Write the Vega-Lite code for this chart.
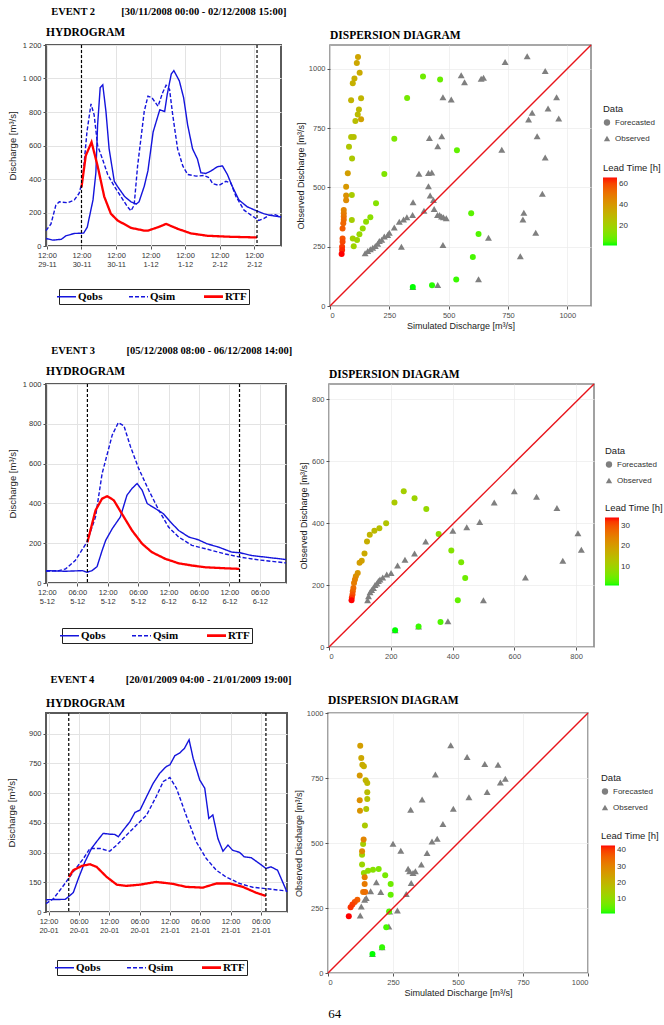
{
  "$schema": "https://vega.github.io/schema/vega-lite/v6.json",
  "background": "white",
  "padding": {"left": 5, "right": 2, "top": 7, "bottom": 2},
  "spacing": 14,
  "resolve": {"scale": {"shape": "independent", "color": "independent"}, "legend": {"shape": "independent", "color": "independent"}},
  "config": {
    "font": "Liberation Sans",
    "view": {"stroke": null},
    "title": {"font": "Liberation Serif", "fontSize": 11.5, "fontWeight": "bold", "color": "#000", "anchor": "start", "offset": 3, "frame": "group"},
    "axis": {"labelFont": "Liberation Sans", "titleFont": "Liberation Sans", "labelFontSize": 7.5, "titleFontSize": 9, "titleFontWeight": "normal", "labelColor": "#4d4d4d", "titleColor": "#222", "domain": false, "tickSize": 3, "tickColor": "#555", "gridColor": "#ebebeb", "labelPadding": 2},
    "legend": {"titleFont": "Liberation Sans", "labelFont": "Liberation Sans", "titleFontWeight": "normal", "titleFontSize": 9.5, "labelFontSize": 8, "titleColor": "#222", "labelColor": "#333"}
  },
  "title": {"text": "64", "orient": "bottom", "anchor": "middle", "fontSize": 13, "fontWeight": "normal", "offset": 10, "frame": "bounds"},
  "datasets": {
    "h2": [
      {"t":"2008-11-29T11:40","q":45,"s":"Qobs"},{"t":"2008-11-29T14:00","q":35,"s":"Qobs"},{"t":"2008-11-29T17:00","q":40,"s":"Qobs"},{"t":"2008-11-29T18:30","q":60,"s":"Qobs"},{"t":"2008-11-29T21:30","q":75,"s":"Qobs"},{"t":"2008-11-30T00:45","q":77,"s":"Qobs"},{"t":"2008-11-30T02:00","q":112,"s":"Qobs"},{"t":"2008-11-30T04:00","q":275,"s":"Qobs"},{"t":"2008-11-30T05:00","q":437,"s":"Qobs"},{"t":"2008-11-30T05:36","q":722,"s":"Qobs"},{"t":"2008-11-30T06:30","q":946,"s":"Qobs"},{"t":"2008-11-30T07:24","q":962,"s":"Qobs"},{"t":"2008-11-30T08:30","q":803,"s":"Qobs"},{"t":"2008-11-30T09:36","q":580,"s":"Qobs"},{"t":"2008-11-30T11:24","q":386,"s":"Qobs"},{"t":"2008-11-30T12:30","q":356,"s":"Qobs"},{"t":"2008-11-30T15:00","q":295,"s":"Qobs"},{"t":"2008-11-30T17:12","q":264,"s":"Qobs"},{"t":"2008-11-30T19:00","q":250,"s":"Qobs"},{"t":"2008-11-30T20:00","q":264,"s":"Qobs"},{"t":"2008-11-30T21:48","q":356,"s":"Qobs"},{"t":"2008-11-30T23:06","q":450,"s":"Qobs"},{"t":"2008-12-01T00:54","q":681,"s":"Qobs"},{"t":"2008-12-01T03:12","q":813,"s":"Qobs"},{"t":"2008-12-01T04:54","q":803,"s":"Qobs"},{"t":"2008-12-01T05:48","q":905,"s":"Qobs"},{"t":"2008-12-01T07:12","q":1027,"s":"Qobs"},{"t":"2008-12-01T08:06","q":1047,"s":"Qobs"},{"t":"2008-12-01T10:00","q":986,"s":"Qobs"},{"t":"2008-12-01T11:30","q":885,"s":"Qobs"},{"t":"2008-12-01T12:54","q":722,"s":"Qobs"},{"t":"2008-12-01T14:36","q":580,"s":"Qobs"},{"t":"2008-12-01T16:18","q":519,"s":"Qobs"},{"t":"2008-12-01T17:30","q":437,"s":"Qobs"},{"t":"2008-12-01T19:12","q":433,"s":"Qobs"},{"t":"2008-12-01T20:54","q":447,"s":"Qobs"},{"t":"2008-12-01T23:18","q":474,"s":"Qobs"},{"t":"2008-12-02T01:00","q":478,"s":"Qobs"},{"t":"2008-12-02T02:42","q":427,"s":"Qobs"},{"t":"2008-12-02T04:24","q":356,"s":"Qobs"},{"t":"2008-12-02T06:42","q":275,"s":"Qobs"},{"t":"2008-12-02T09:36","q":234,"s":"Qobs"},{"t":"2008-12-02T13:00","q":209,"s":"Qobs"},{"t":"2008-12-02T15:18","q":193,"s":"Qobs"},{"t":"2008-12-02T17:36","q":183,"s":"Qobs"},{"t":"2008-12-02T21:20","q":173,"s":"Qobs"},
      {"t":"2008-11-29T11:40","q":92,"s":"Qsim"},{"t":"2008-11-29T13:24","q":132,"s":"Qsim"},{"t":"2008-11-29T15:06","q":244,"s":"Qsim"},{"t":"2008-11-29T16:18","q":264,"s":"Qsim"},{"t":"2008-11-29T19:12","q":258,"s":"Qsim"},{"t":"2008-11-29T21:30","q":275,"s":"Qsim"},{"t":"2008-11-29T23:12","q":315,"s":"Qsim"},{"t":"2008-11-30T00:24","q":397,"s":"Qsim"},{"t":"2008-11-30T01:54","q":681,"s":"Qsim"},{"t":"2008-11-30T03:18","q":848,"s":"Qsim"},{"t":"2008-11-30T04:24","q":783,"s":"Qsim"},{"t":"2008-11-30T05:36","q":600,"s":"Qsim"},{"t":"2008-11-30T07:18","q":519,"s":"Qsim"},{"t":"2008-11-30T09:06","q":427,"s":"Qsim"},{"t":"2008-11-30T11:24","q":356,"s":"Qsim"},{"t":"2008-11-30T13:42","q":295,"s":"Qsim"},{"t":"2008-11-30T16:00","q":234,"s":"Qsim"},{"t":"2008-11-30T17:12","q":210,"s":"Qsim"},{"t":"2008-11-30T18:18","q":244,"s":"Qsim"},{"t":"2008-11-30T19:30","q":478,"s":"Qsim"},{"t":"2008-11-30T21:48","q":803,"s":"Qsim"},{"t":"2008-11-30T23:06","q":895,"s":"Qsim"},{"t":"2008-12-01T00:30","q":885,"s":"Qsim"},{"t":"2008-12-01T02:36","q":834,"s":"Qsim"},{"t":"2008-12-01T04:12","q":915,"s":"Qsim"},{"t":"2008-12-01T05:24","q":960,"s":"Qsim"},{"t":"2008-12-01T06:36","q":935,"s":"Qsim"},{"t":"2008-12-01T07:42","q":783,"s":"Qsim"},{"t":"2008-12-01T09:24","q":580,"s":"Qsim"},{"t":"2008-12-01T11:12","q":478,"s":"Qsim"},{"t":"2008-12-01T12:54","q":427,"s":"Qsim"},{"t":"2008-12-01T15:48","q":417,"s":"Qsim"},{"t":"2008-12-01T18:42","q":421,"s":"Qsim"},{"t":"2008-12-01T20:24","q":407,"s":"Qsim"},{"t":"2008-12-01T21:36","q":372,"s":"Qsim"},{"t":"2008-12-01T23:48","q":362,"s":"Qsim"},{"t":"2008-12-02T02:12","q":386,"s":"Qsim"},{"t":"2008-12-02T03:54","q":376,"s":"Qsim"},{"t":"2008-12-02T05:42","q":295,"s":"Qsim"},{"t":"2008-12-02T08:30","q":214,"s":"Qsim"},{"t":"2008-12-02T11:54","q":173,"s":"Qsim"},{"t":"2008-12-02T13:36","q":153,"s":"Qsim"},{"t":"2008-12-02T15:18","q":163,"s":"Qsim"},{"t":"2008-12-02T17:06","q":183,"s":"Qsim"},{"t":"2008-12-02T19:18","q":187,"s":"Qsim"},{"t":"2008-12-02T21:20","q":173,"s":"Qsim"},
      {"t":"2008-11-30T00:00","q":350,"s":"RTF"},{"t":"2008-11-30T01:30","q":540,"s":"RTF"},{"t":"2008-11-30T03:30","q":620,"s":"RTF"},{"t":"2008-11-30T05:36","q":478,"s":"RTF"},{"t":"2008-11-30T07:54","q":295,"s":"RTF"},{"t":"2008-11-30T10:12","q":193,"s":"RTF"},{"t":"2008-11-30T12:30","q":153,"s":"RTF"},{"t":"2008-11-30T17:12","q":108,"s":"RTF"},{"t":"2008-11-30T21:48","q":92,"s":"RTF"},{"t":"2008-11-30T23:06","q":92,"s":"RTF"},{"t":"2008-12-01T02:36","q":112,"s":"RTF"},{"t":"2008-12-01T05:24","q":132,"s":"RTF"},{"t":"2008-12-01T09:30","q":102,"s":"RTF"},{"t":"2008-12-01T14:06","q":75,"s":"RTF"},{"t":"2008-12-01T19:48","q":61,"s":"RTF"},{"t":"2008-12-02T03:48","q":55,"s":"RTF"},{"t":"2008-12-02T13:00","q":51,"s":"RTF"}
    ],
    "h3": [
      {"t":"2008-12-04T23:50","q":62,"s":"Qobs"},{"t":"2008-12-05T03:42","q":59,"s":"Qobs"},{"t":"2008-12-05T07:00","q":62,"s":"Qobs"},{"t":"2008-12-05T07:54","q":54,"s":"Qobs"},{"t":"2008-12-05T08:54","q":62,"s":"Qobs"},{"t":"2008-12-05T09:54","q":82,"s":"Qobs"},{"t":"2008-12-05T10:54","q":163,"s":"Qobs"},{"t":"2008-12-05T11:36","q":214,"s":"Qobs"},{"t":"2008-12-05T12:54","q":273,"s":"Qobs"},{"t":"2008-12-05T14:30","q":332,"s":"Qobs"},{"t":"2008-12-05T15:48","q":441,"s":"Qobs"},{"t":"2008-12-05T16:48","q":475,"s":"Qobs"},{"t":"2008-12-05T17:48","q":500,"s":"Qobs"},{"t":"2008-12-05T18:48","q":466,"s":"Qobs"},{"t":"2008-12-05T19:48","q":399,"s":"Qobs"},{"t":"2008-12-05T21:24","q":374,"s":"Qobs"},{"t":"2008-12-05T23:00","q":348,"s":"Qobs"},{"t":"2008-12-06T00:24","q":306,"s":"Qobs"},{"t":"2008-12-06T02:00","q":264,"s":"Qobs"},{"t":"2008-12-06T04:00","q":231,"s":"Qobs"},{"t":"2008-12-06T05:54","q":217,"s":"Qobs"},{"t":"2008-12-06T07:36","q":197,"s":"Qobs"},{"t":"2008-12-06T09:54","q":180,"s":"Qobs"},{"t":"2008-12-06T12:30","q":155,"s":"Qobs"},{"t":"2008-12-06T14:06","q":152,"s":"Qobs"},{"t":"2008-12-06T16:24","q":138,"s":"Qobs"},{"t":"2008-12-06T19:06","q":130,"s":"Qobs"},{"t":"2008-12-06T23:10","q":118,"s":"Qobs"},
      {"t":"2008-12-04T23:50","q":59,"s":"Qsim"},{"t":"2008-12-05T02:24","q":62,"s":"Qsim"},{"t":"2008-12-05T03:42","q":71,"s":"Qsim"},{"t":"2008-12-05T05:36","q":113,"s":"Qsim"},{"t":"2008-12-05T07:54","q":205,"s":"Qsim"},{"t":"2008-12-05T09:36","q":332,"s":"Qsim"},{"t":"2008-12-05T10:54","q":550,"s":"Qsim"},{"t":"2008-12-05T12:54","q":744,"s":"Qsim"},{"t":"2008-12-05T14:06","q":806,"s":"Qsim"},{"t":"2008-12-05T15:12","q":790,"s":"Qsim"},{"t":"2008-12-05T16:30","q":685,"s":"Qsim"},{"t":"2008-12-05T18:06","q":576,"s":"Qsim"},{"t":"2008-12-05T20:06","q":466,"s":"Qsim"},{"t":"2008-12-05T22:06","q":365,"s":"Qsim"},{"t":"2008-12-06T00:00","q":281,"s":"Qsim"},{"t":"2008-12-06T02:00","q":231,"s":"Qsim"},{"t":"2008-12-06T04:36","q":189,"s":"Qsim"},{"t":"2008-12-06T07:18","q":172,"s":"Qsim"},{"t":"2008-12-06T11:12","q":146,"s":"Qsim"},{"t":"2008-12-06T14:06","q":130,"s":"Qsim"},{"t":"2008-12-06T17:48","q":116,"s":"Qsim"},{"t":"2008-12-06T23:10","q":101,"s":"Qsim"},
      {"t":"2008-12-05T08:00","q":205,"s":"RTF"},{"t":"2008-12-05T09:36","q":365,"s":"RTF"},{"t":"2008-12-05T10:54","q":424,"s":"RTF"},{"t":"2008-12-05T11:54","q":436,"s":"RTF"},{"t":"2008-12-05T13:12","q":416,"s":"RTF"},{"t":"2008-12-05T14:48","q":348,"s":"RTF"},{"t":"2008-12-05T16:48","q":264,"s":"RTF"},{"t":"2008-12-05T18:48","q":197,"s":"RTF"},{"t":"2008-12-05T20:42","q":155,"s":"RTF"},{"t":"2008-12-05T23:24","q":121,"s":"RTF"},{"t":"2008-12-06T02:00","q":99,"s":"RTF"},{"t":"2008-12-06T04:36","q":88,"s":"RTF"},{"t":"2008-12-06T07:18","q":79,"s":"RTF"},{"t":"2008-12-06T11:12","q":74,"s":"RTF"},{"t":"2008-12-06T14:00","q":71,"s":"RTF"}
    ],
    "h4": [
      {"t":"2009-01-19T23:30","q":62,"s":"Qobs"},{"t":"2009-01-20T03:18","q":64,"s":"Qobs"},{"t":"2009-01-20T03:54","q":76,"s":"Qobs"},{"t":"2009-01-20T04:54","q":98,"s":"Qobs"},{"t":"2009-01-20T05:54","q":169,"s":"Qobs"},{"t":"2009-01-20T07:12","q":253,"s":"Qobs"},{"t":"2009-01-20T08:30","q":321,"s":"Qobs"},{"t":"2009-01-20T09:30","q":355,"s":"Qobs"},{"t":"2009-01-20T10:48","q":397,"s":"Qobs"},{"t":"2009-01-20T12:06","q":393,"s":"Qobs"},{"t":"2009-01-20T13:06","q":392,"s":"Qobs"},{"t":"2009-01-20T13:48","q":380,"s":"Qobs"},{"t":"2009-01-20T14:48","q":414,"s":"Qobs"},{"t":"2009-01-20T16:06","q":456,"s":"Qobs"},{"t":"2009-01-20T17:06","q":503,"s":"Qobs"},{"t":"2009-01-20T18:06","q":515,"s":"Qobs"},{"t":"2009-01-20T19:24","q":583,"s":"Qobs"},{"t":"2009-01-20T20:42","q":650,"s":"Qobs"},{"t":"2009-01-20T22:00","q":701,"s":"Qobs"},{"t":"2009-01-20T23:18","q":735,"s":"Qobs"},{"t":"2009-01-21T00:00","q":743,"s":"Qobs"},{"t":"2009-01-21T01:00","q":790,"s":"Qobs"},{"t":"2009-01-21T01:54","q":802,"s":"Qobs"},{"t":"2009-01-21T02:54","q":827,"s":"Qobs"},{"t":"2009-01-21T03:48","q":870,"s":"Qobs"},{"t":"2009-01-21T04:36","q":777,"s":"Qobs"},{"t":"2009-01-21T05:54","q":667,"s":"Qobs"},{"t":"2009-01-21T06:54","q":625,"s":"Qobs"},{"t":"2009-01-21T07:42","q":473,"s":"Qobs"},{"t":"2009-01-21T08:30","q":490,"s":"Qobs"},{"t":"2009-01-21T09:30","q":371,"s":"Qobs"},{"t":"2009-01-21T10:30","q":307,"s":"Qobs"},{"t":"2009-01-21T11:30","q":338,"s":"Qobs"},{"t":"2009-01-21T12:24","q":312,"s":"Qobs"},{"t":"2009-01-21T13:48","q":301,"s":"Qobs"},{"t":"2009-01-21T14:42","q":279,"s":"Qobs"},{"t":"2009-01-21T16:06","q":274,"s":"Qobs"},{"t":"2009-01-21T17:42","q":245,"s":"Qobs"},{"t":"2009-01-21T19:00","q":220,"s":"Qobs"},{"t":"2009-01-21T20:00","q":228,"s":"Qobs"},{"t":"2009-01-21T21:18","q":211,"s":"Qobs"},{"t":"2009-01-21T22:18","q":152,"s":"Qobs"},{"t":"2009-01-21T23:10","q":101,"s":"Qobs"},
      {"t":"2009-01-19T23:30","q":42,"s":"Qsim"},{"t":"2009-01-20T01:00","q":68,"s":"Qsim"},{"t":"2009-01-20T03:00","q":135,"s":"Qsim"},{"t":"2009-01-20T04:54","q":203,"s":"Qsim"},{"t":"2009-01-20T06:54","q":270,"s":"Qsim"},{"t":"2009-01-20T08:12","q":321,"s":"Qsim"},{"t":"2009-01-20T10:12","q":321,"s":"Qsim"},{"t":"2009-01-20T12:06","q":307,"s":"Qsim"},{"t":"2009-01-20T13:30","q":338,"s":"Qsim"},{"t":"2009-01-20T15:24","q":388,"s":"Qsim"},{"t":"2009-01-20T17:24","q":439,"s":"Qsim"},{"t":"2009-01-20T19:24","q":490,"s":"Qsim"},{"t":"2009-01-20T21:18","q":583,"s":"Qsim"},{"t":"2009-01-20T22:42","q":659,"s":"Qsim"},{"t":"2009-01-21T00:00","q":679,"s":"Qsim"},{"t":"2009-01-21T01:18","q":625,"s":"Qsim"},{"t":"2009-01-21T03:12","q":490,"s":"Qsim"},{"t":"2009-01-21T05:12","q":355,"s":"Qsim"},{"t":"2009-01-21T07:12","q":270,"s":"Qsim"},{"t":"2009-01-21T09:12","q":211,"s":"Qsim"},{"t":"2009-01-21T11:06","q":177,"s":"Qsim"},{"t":"2009-01-21T13:48","q":144,"s":"Qsim"},{"t":"2009-01-21T16:24","q":125,"s":"Qsim"},{"t":"2009-01-21T19:00","q":118,"s":"Qsim"},{"t":"2009-01-21T23:10","q":106,"s":"Qsim"},
      {"t":"2009-01-20T04:00","q":177,"s":"RTF"},{"t":"2009-01-20T04:54","q":211,"s":"RTF"},{"t":"2009-01-20T06:36","q":233,"s":"RTF"},{"t":"2009-01-20T08:12","q":241,"s":"RTF"},{"t":"2009-01-20T09:30","q":228,"s":"RTF"},{"t":"2009-01-20T11:30","q":177,"s":"RTF"},{"t":"2009-01-20T13:30","q":138,"s":"RTF"},{"t":"2009-01-20T15:24","q":132,"s":"RTF"},{"t":"2009-01-20T18:06","q":138,"s":"RTF"},{"t":"2009-01-20T21:18","q":152,"s":"RTF"},{"t":"2009-01-21T00:36","q":142,"s":"RTF"},{"t":"2009-01-21T03:12","q":127,"s":"RTF"},{"t":"2009-01-21T06:30","q":123,"s":"RTF"},{"t":"2009-01-21T09:12","q":144,"s":"RTF"},{"t":"2009-01-21T11:48","q":144,"s":"RTF"},{"t":"2009-01-21T14:24","q":127,"s":"RTF"},{"t":"2009-01-21T17:00","q":98,"s":"RTF"},{"t":"2009-01-21T19:00","q":81,"s":"RTF"}
    ],
    "s2": [
      {"Data":"Observed","sim":148,"obs":222},{"Data":"Observed","sim":159,"obs":232},{"Data":"Observed","sim":170,"obs":239},{"Data":"Observed","sim":180,"obs":246},{"Data":"Observed","sim":191,"obs":253},{"Data":"Observed","sim":201,"obs":262},{"Data":"Observed","sim":208,"obs":274},{"Data":"Observed","sim":218,"obs":279},{"Data":"Observed","sim":229,"obs":293},{"Data":"Observed","sim":243,"obs":299},{"Data":"Observed","sim":250,"obs":309},{"Data":"Observed","sim":271,"obs":331},{"Data":"Observed","sim":292,"obs":355},{"Data":"Observed","sim":310,"obs":365},{"Data":"Observed","sim":324,"obs":374},{"Data":"Observed","sim":348,"obs":384},{"Data":"Observed","sim":301,"obs":250},{"Data":"Observed","sim":350,"obs":437},{"Data":"Observed","sim":396,"obs":401},{"Data":"Observed","sim":415,"obs":505},{"Data":"Observed","sim":422,"obs":466},{"Data":"Observed","sim":436,"obs":447},{"Data":"Observed","sim":439,"obs":409},{"Data":"Observed","sim":453,"obs":384},{"Data":"Observed","sim":462,"obs":384},{"Data":"Observed","sim":470,"obs":377},{"Data":"Observed","sim":478,"obs":374},{"Data":"Observed","sim":490,"obs":370},{"Data":"Observed","sim":476,"obs":257},{"Data":"Observed","sim":454,"obs":88},{"Data":"Observed","sim":349,"obs":80},{"Data":"Observed","sim":375,"obs":557},{"Data":"Observed","sim":415,"obs":561},{"Data":"Observed","sim":429,"obs":563},{"Data":"Observed","sim":419,"obs":708},{"Data":"Observed","sim":471,"obs":715},{"Data":"Observed","sim":454,"obs":673},{"Data":"Observed","sim":476,"obs":880},{"Data":"Observed","sim":511,"obs":870},{"Data":"Observed","sim":553,"obs":973},{"Data":"Observed","sim":567,"obs":943},{"Data":"Observed","sim":637,"obs":958},{"Data":"Observed","sim":647,"obs":962},{"Data":"Observed","sim":738,"obs":1028},{"Data":"Observed","sim":831,"obs":1053},{"Data":"Observed","sim":907,"obs":990},{"Data":"Observed","sim":955,"obs":880},{"Data":"Observed","sim":919,"obs":832},{"Data":"Observed","sim":852,"obs":814},{"Data":"Observed","sim":837,"obs":786},{"Data":"Observed","sim":964,"obs":790},{"Data":"Observed","sim":873,"obs":715},{"Data":"Observed","sim":724,"obs":659},{"Data":"Observed","sim":907,"obs":626},{"Data":"Observed","sim":895,"obs":473},{"Data":"Observed","sim":817,"obs":393},{"Data":"Observed","sim":813,"obs":365},{"Data":"Observed","sim":867,"obs":309},{"Data":"Observed","sim":668,"obs":288},{"Data":"Observed","sim":802,"obs":210},{"Data":"Observed","sim":626,"obs":113},
      {"Data":"Forecasted","sim":349,"obs":80,"lead":1},{"Data":"Forecasted","sim":430,"obs":87,"lead":2},{"Data":"Forecasted","sim":532,"obs":112,"lead":3},{"Data":"Forecasted","sim":602,"obs":207,"lead":4},{"Data":"Forecasted","sim":626,"obs":303,"lead":5},{"Data":"Forecasted","sim":595,"obs":391,"lead":6},{"Data":"Forecasted","sim":535,"obs":656,"lead":7},{"Data":"Forecasted","sim":464,"obs":955,"lead":8},{"Data":"Forecasted","sim":392,"obs":967,"lead":9},{"Data":"Forecasted","sim":325,"obs":877,"lead":10},{"Data":"Forecasted","sim":271,"obs":705,"lead":11},{"Data":"Forecasted","sim":229,"obs":556,"lead":12},{"Data":"Forecasted","sim":194,"obs":433,"lead":13},{"Data":"Forecasted","sim":170,"obs":374,"lead":14},{"Data":"Forecasted","sim":152,"obs":355,"lead":15},{"Data":"Forecasted","sim":138,"obs":327,"lead":16},{"Data":"Forecasted","sim":124,"obs":302,"lead":17},{"Data":"Forecasted","sim":114,"obs":278,"lead":18},{"Data":"Forecasted","sim":100,"obs":252,"lead":19},{"Data":"Forecasted","sim":96,"obs":285,"lead":20},{"Data":"Forecasted","sim":92,"obs":362,"lead":21},{"Data":"Forecasted","sim":92,"obs":468,"lead":22},{"Data":"Forecasted","sim":93,"obs":622,"lead":23},{"Data":"Forecasted","sim":80,"obs":671,"lead":24},{"Data":"Forecasted","sim":89,"obs":712,"lead":25},{"Data":"Forecasted","sim":100,"obs":712,"lead":26},{"Data":"Forecasted","sim":107,"obs":780,"lead":27},{"Data":"Forecasted","sim":117,"obs":807,"lead":28},{"Data":"Forecasted","sim":122,"obs":828,"lead":29},{"Data":"Forecasted","sim":131,"obs":876,"lead":30},{"Data":"Forecasted","sim":89,"obs":867,"lead":31},{"Data":"Forecasted","sim":96,"obs":939,"lead":32},{"Data":"Forecasted","sim":103,"obs":959,"lead":33},{"Data":"Forecasted","sim":125,"obs":983,"lead":34},{"Data":"Forecasted","sim":113,"obs":1024,"lead":35},{"Data":"Forecasted","sim":118,"obs":1049,"lead":36},{"Data":"Forecasted","sim":131,"obs":787,"lead":37},{"Data":"Forecasted","sim":75,"obs":560,"lead":38},{"Data":"Forecasted","sim":68,"obs":503,"lead":40},{"Data":"Forecasted","sim":68,"obs":466,"lead":42},{"Data":"Forecasted","sim":68,"obs":446,"lead":44},{"Data":"Forecasted","sim":58,"obs":405,"lead":46},{"Data":"Forecasted","sim":58,"obs":391,"lead":48},{"Data":"Forecasted","sim":58,"obs":377,"lead":50},{"Data":"Forecasted","sim":58,"obs":363,"lead":52},{"Data":"Forecasted","sim":56,"obs":349,"lead":54},{"Data":"Forecasted","sim":53,"obs":327,"lead":56},{"Data":"Forecasted","sim":53,"obs":285,"lead":58},{"Data":"Forecasted","sim":53,"obs":271,"lead":60},{"Data":"Forecasted","sim":51,"obs":250,"lead":62},{"Data":"Forecasted","sim":51,"obs":236,"lead":64},{"Data":"Forecasted","sim":49,"obs":219,"lead":66}
    ],
    "s3": [
      {"Data":"Observed","sim":214,"obs":54},{"Data":"Observed","sim":290,"obs":66},{"Data":"Observed","sim":385,"obs":83},{"Data":"Observed","sim":500,"obs":151},{"Data":"Observed","sim":636,"obs":225},{"Data":"Observed","sim":757,"obs":279},{"Data":"Observed","sim":817,"obs":314},{"Data":"Observed","sim":806,"obs":368},{"Data":"Observed","sim":738,"obs":449},{"Data":"Observed","sim":672,"obs":486},{"Data":"Observed","sim":600,"obs":503},{"Data":"Observed","sim":535,"obs":467},{"Data":"Observed","sim":488,"obs":404},{"Data":"Observed","sim":446,"obs":387},{"Data":"Observed","sim":401,"obs":376},{"Data":"Observed","sim":313,"obs":341},{"Data":"Observed","sim":277,"obs":302},{"Data":"Observed","sim":246,"obs":282},{"Data":"Observed","sim":222,"obs":263},{"Data":"Observed","sim":201,"obs":239},{"Data":"Observed","sim":187,"obs":234},{"Data":"Observed","sim":174,"obs":225},{"Data":"Observed","sim":165,"obs":218},{"Data":"Observed","sim":160,"obs":213},{"Data":"Observed","sim":155,"obs":205},{"Data":"Observed","sim":149,"obs":200},{"Data":"Observed","sim":144,"obs":191},{"Data":"Observed","sim":138,"obs":184},{"Data":"Observed","sim":133,"obs":177},{"Data":"Observed","sim":128,"obs":164},{"Data":"Observed","sim":125,"obs":151},
      {"Data":"Forecasted","sim":214,"obs":54,"lead":1},{"Data":"Forecasted","sim":290,"obs":66,"lead":2},{"Data":"Forecasted","sim":361,"obs":81,"lead":3},{"Data":"Forecasted","sim":417,"obs":151,"lead":4},{"Data":"Forecasted","sim":441,"obs":223,"lead":5},{"Data":"Forecasted","sim":428,"obs":274,"lead":6},{"Data":"Forecasted","sim":396,"obs":312,"lead":7},{"Data":"Forecasted","sim":355,"obs":365,"lead":8},{"Data":"Forecasted","sim":315,"obs":446,"lead":9},{"Data":"Forecasted","sim":277,"obs":481,"lead":10},{"Data":"Forecasted","sim":242,"obs":503,"lead":11},{"Data":"Forecasted","sim":212,"obs":467,"lead":12},{"Data":"Forecasted","sim":185,"obs":400,"lead":13},{"Data":"Forecasted","sim":163,"obs":384,"lead":14},{"Data":"Forecasted","sim":147,"obs":376,"lead":15},{"Data":"Forecasted","sim":132,"obs":363,"lead":16},{"Data":"Forecasted","sim":123,"obs":341,"lead":17},{"Data":"Forecasted","sim":115,"obs":302,"lead":18},{"Data":"Forecasted","sim":106,"obs":279,"lead":19},{"Data":"Forecasted","sim":99,"obs":272,"lead":20},{"Data":"Forecasted","sim":93,"obs":239,"lead":21},{"Data":"Forecasted","sim":87,"obs":229,"lead":22},{"Data":"Forecasted","sim":84,"obs":218,"lead":24},{"Data":"Forecasted","sim":81,"obs":207,"lead":25},{"Data":"Forecasted","sim":79,"obs":191,"lead":27},{"Data":"Forecasted","sim":77,"obs":180,"lead":28},{"Data":"Forecasted","sim":76,"obs":170,"lead":30},{"Data":"Forecasted","sim":74,"obs":160,"lead":32},{"Data":"Forecasted","sim":73,"obs":151,"lead":34}
    ],
    "s4": [
      {"Data":"Observed","sim":171,"obs":73},{"Data":"Observed","sim":208,"obs":99},{"Data":"Observed","sim":234,"obs":179},{"Data":"Observed","sim":237,"obs":237},{"Data":"Observed","sim":124,"obs":221},{"Data":"Observed","sim":128,"obs":256},{"Data":"Observed","sim":141,"obs":282},{"Data":"Observed","sim":147,"obs":288},{"Data":"Observed","sim":164,"obs":314},{"Data":"Observed","sim":186,"obs":349},{"Data":"Observed","sim":203,"obs":312},{"Data":"Observed","sim":267,"obs":240},{"Data":"Observed","sim":301,"obs":304},{"Data":"Observed","sim":320,"obs":346},{"Data":"Observed","sim":308,"obs":401},{"Data":"Observed","sim":314,"obs":391},{"Data":"Observed","sim":327,"obs":385},{"Data":"Observed","sim":336,"obs":391},{"Data":"Observed","sim":359,"obs":417},{"Data":"Observed","sim":381,"obs":462},{"Data":"Observed","sim":400,"obs":506},{"Data":"Observed","sim":420,"obs":516},{"Data":"Observed","sim":442,"obs":573},{"Data":"Observed","sim":482,"obs":632},{"Data":"Observed","sim":250,"obs":497},{"Data":"Observed","sim":280,"obs":470},{"Data":"Observed","sim":318,"obs":628},{"Data":"Observed","sim":362,"obs":667},{"Data":"Observed","sim":413,"obs":763},{"Data":"Observed","sim":472,"obs":876},{"Data":"Observed","sim":535,"obs":831},{"Data":"Observed","sim":603,"obs":804},{"Data":"Observed","sim":654,"obs":801},{"Data":"Observed","sim":682,"obs":747},{"Data":"Observed","sim":663,"obs":733},{"Data":"Observed","sim":612,"obs":696},{"Data":"Observed","sim":542,"obs":676},
      {"Data":"Forecasted","sim":171,"obs":73,"lead":1},{"Data":"Forecasted","sim":208,"obs":99,"lead":2},{"Data":"Forecasted","sim":224,"obs":176,"lead":3},{"Data":"Forecasted","sim":235,"obs":237,"lead":4},{"Data":"Forecasted","sim":241,"obs":301,"lead":5},{"Data":"Forecasted","sim":241,"obs":342,"lead":6},{"Data":"Forecasted","sim":220,"obs":376,"lead":7},{"Data":"Forecasted","sim":195,"obs":400,"lead":8},{"Data":"Forecasted","sim":173,"obs":397,"lead":9},{"Data":"Forecasted","sim":154,"obs":393,"lead":10},{"Data":"Forecasted","sim":138,"obs":385,"lead":11},{"Data":"Forecasted","sim":131,"obs":417,"lead":12},{"Data":"Forecasted","sim":131,"obs":455,"lead":13},{"Data":"Forecasted","sim":135,"obs":496,"lead":14},{"Data":"Forecasted","sim":142,"obs":567,"lead":15},{"Data":"Forecasted","sim":147,"obs":631,"lead":16},{"Data":"Forecasted","sim":151,"obs":669,"lead":17},{"Data":"Forecasted","sim":151,"obs":695,"lead":18},{"Data":"Forecasted","sim":151,"obs":731,"lead":19},{"Data":"Forecasted","sim":145,"obs":741,"lead":20},{"Data":"Forecasted","sim":138,"obs":795,"lead":21},{"Data":"Forecasted","sim":132,"obs":801,"lead":22},{"Data":"Forecasted","sim":128,"obs":827,"lead":23},{"Data":"Forecasted","sim":124,"obs":874,"lead":25},{"Data":"Forecasted","sim":122,"obs":760,"lead":26},{"Data":"Forecasted","sim":123,"obs":624,"lead":27},{"Data":"Forecasted","sim":122,"obs":664,"lead":28},{"Data":"Forecasted","sim":131,"obs":468,"lead":29},{"Data":"Forecasted","sim":137,"obs":513,"lead":30},{"Data":"Forecasted","sim":141,"obs":368,"lead":31},{"Data":"Forecasted","sim":141,"obs":342,"lead":32},{"Data":"Forecasted","sim":135,"obs":312,"lead":33},{"Data":"Forecasted","sim":143,"obs":312,"lead":34},{"Data":"Forecasted","sim":113,"obs":282,"lead":36},{"Data":"Forecasted","sim":103,"obs":273,"lead":38},{"Data":"Forecasted","sim":94,"obs":263,"lead":40},{"Data":"Forecasted","sim":87,"obs":253,"lead":41},{"Data":"Forecasted","sim":80,"obs":218,"lead":43}
    ]
  },
  "vconcat": [
    {
      "title": {"text": "EVENT 2\u00a0\u00a0\u00a0\u00a0\u00a0\u00a0\u00a0\u00a0\u00a0\u00a0[30/11/2008 00:00 - 02/12/2008 15:00]", "dx": 45, "fontSize": 10.5, "offset": 8, "frame": "bounds"},
      "spacing": 10,
      "resolve": {"scale": {"shape": "independent", "color": "independent"}, "legend": {"shape": "independent", "color": "independent"}},
      "hconcat": [
        {
          "width": 235, "height": 201,
          "view": {"stroke": "#5a5a5a", "strokeWidth": 2},
          "title": {"text": "HYDROGRAM"},
          "layer": [
            {
              "data": {"name": "h2"},
              "mark": {"type": "line"},
              "encoding": {
                "x": {"field": "t", "type": "temporal", "title": null, "scale": {"nice": false},
                  "axis": {"tickCount": 7, "labelExpr": "[timeFormat(datum.value, '%I:%M'), (+timeFormat(datum.value, '%d')) + '-' + timeFormat(datum.value, '%m')]", "labelLineHeight": 9, "gridColor": "#e3e3e3", "labelColor": "#333", "labelFlush": false}},
                "y": {"field": "q", "type": "quantitative", "title": "Discharge [m³/s]",
                  "scale": {"domain": [0, 1200], "nice": false},
                  "axis": {"values": [0, 200, 400, 600, 800, 1000, 1200], "labelExpr": "datum.value == 1200 ? '1 200' : datum.value == 1000 ? '1 000' : datum.label", "titlePadding": 5, "gridColor": "#e3e3e3", "labelColor": "#333", "titleFontSize": 9.5}},
                "color": {"field": "s", "type": "nominal", "scale": {"domain": ["Qobs", "Qsim", "RTF"], "range": ["#1414dc", "#1414dc", "#ff0000"]},
                  "legend": {"title": null, "orient": "none", "legendX": 13, "legendY": 244, "direction": "horizontal", "strokeColor": "#222", "fillColor": "#fff", "padding": 2, "labelFont": "Liberation Serif", "labelFontWeight": "bold", "labelFontSize": 11, "labelColor": "#000", "symbolSize": 360, "columnPadding": 22, "labelOffset": 6,
                    "encode": {"legend": {"update": {"stroke": {"value": "#222"}, "strokeWidth": {"value": 1}, "fill": {"value": "#fff"}}}, "symbols": {"update": {"strokeDash": {"signal": "datum.value == 'Qsim' ? [4, 2] : [1, 0]"}, "strokeWidth": {"signal": "datum.value == 'RTF' ? 2.6 : 1.6"}}}}}},
                "strokeDash": {"field": "s", "type": "nominal", "scale": {"domain": ["Qobs", "Qsim", "RTF"], "range": [[1, 0], [4, 2], [1, 0]]}, "legend": null},
                "strokeWidth": {"condition": {"test": "datum.s == 'RTF'", "value": 2.3}, "value": 1.4}
              }
            },
            {
              "data": {"values": [{"t": "2008-11-30T00:00"}, {"t": "2008-12-02T13:00"}]},
              "mark": {"type": "rule", "color": "#000", "strokeDash": [3, 2], "strokeWidth": 1.2},
              "encoding": {"x": {"field": "t", "type": "temporal"}}
            }
          ]
        },
        {
          "width": 261, "height": 261,
          "view": {"stroke": "#8a8a8a", "strokeWidth": 1.6},
          "title": {"text": "DISPERSION DIAGRAM"},
          "layer": [
            {
              "data": {"name": "s2"},
              "transform": [{"filter": "datum.Data == 'Observed'"}],
              "mark": {"type": "point", "filled": true, "color": "#7f7f7f", "opacity": 1, "size": 48},
              "encoding": {
                "x": {"field": "sim", "type": "quantitative", "title": "Simulated Discharge [m³/s]", "scale": {"domain": [0, 1100], "nice": false},
                  "axis": {"values": [0, 125, 250, 375, 500, 625, 750, 875, 1000], "format": "d", "labelExpr": "datum.value % 250 == 0 ? datum.label : ''", "gridWidth": 0.7, "titlePadding": 3}},
                "y": {"field": "obs", "type": "quantitative", "title": "Observed Discharge [m³/s]", "scale": {"domain": [0, 1100], "nice": false},
                  "axis": {"values": [0, 125, 250, 375, 500, 625, 750, 875, 1000], "format": "d", "labelExpr": "datum.value % 250 == 0 ? datum.label : ''", "gridWidth": 0.7, "titlePadding": 3}},
                "shape": {"field": "Data", "type": "nominal", "scale": {"domain": ["Forecasted", "Observed"], "range": ["circle", "triangle-up"]},
                  "legend": {"title": "Data", "orient": "none", "legendX": 273, "legendY": 59, "padding": 0, "symbolSize": 40, "rowPadding": 3,
                    "encode": {"symbols": {"update": {"fill": {"value": "#000"}, "stroke": {"value": "#000"}, "opacity": {"value": 1}}}}}}
              }
            },
            {
              "data": {"name": "s2"},
              "transform": [{"filter": "datum.Data == 'Forecasted'"}],
              "mark": {"type": "point", "filled": true, "opacity": 1, "size": 36, "shape": "circle"},
              "encoding": {
                "x": {"field": "sim", "type": "quantitative"},
                "y": {"field": "obs", "type": "quantitative"},
                "color": {"field": "lead", "type": "quantitative", "scale": {"domain": [1, 66], "range": ["#00ff00", "#ff0000"], "interpolate": "lab"},
                  "legend": {"title": "Lead Time [h]", "orient": "none", "legendX": 273, "legendY": 118, "padding": 0, "values": [20, 40, 60], "gradientLength": 68, "gradientThickness": 14}}
              }
            },
            {
              "data": {"values": [{"a": 0, "b": 0, "a2": 1100, "b2": 1100}]},
              "mark": {"type": "rule", "color": "#e8141b", "strokeWidth": 1.4},
              "encoding": {"x": {"field": "a", "type": "quantitative"}, "y": {"field": "b", "type": "quantitative"}, "x2": {"field": "a2"}, "y2": {"field": "b2"}}
            }
          ]
        }
      ]
    },
    {
      "title": {"text": "EVENT 3\u00a0\u00a0\u00a0\u00a0\u00a0\u00a0\u00a0\u00a0\u00a0\u00a0\u00a0\u00a0[05/12/2008 08:00 - 06/12/2008 14:00]", "dx": 45, "fontSize": 10.5, "offset": 8, "frame": "bounds"},
      "spacing": 8,
      "resolve": {"scale": {"shape": "independent", "color": "independent"}, "legend": {"shape": "independent", "color": "independent"}},
      "hconcat": [
        {
          "width": 240, "height": 199,
          "view": {"stroke": "#5a5a5a", "strokeWidth": 2},
          "title": {"text": "HYDROGRAM"},
          "layer": [
            {
              "data": {"name": "h3"},
              "mark": {"type": "line"},
              "encoding": {
                "x": {"field": "t", "type": "temporal", "title": null, "scale": {"nice": false},
                  "axis": {"tickCount": 8, "labelExpr": "[timeFormat(datum.value, '%I:%M'), (+timeFormat(datum.value, '%d')) + '-' + timeFormat(datum.value, '%m')]", "labelLineHeight": 9, "gridColor": "#e3e3e3", "labelColor": "#333", "labelFlush": false}},
                "y": {"field": "q", "type": "quantitative", "title": "Discharge [m³/s]",
                  "scale": {"domain": [0, 1000], "nice": false},
                  "axis": {"values": [0, 200, 400, 600, 800, 1000], "labelExpr": "datum.value == 1000 ? '1 000' : datum.label", "titlePadding": 5, "gridColor": "#e3e3e3", "labelColor": "#333", "titleFontSize": 9.5}},
                "color": {"field": "s", "type": "nominal", "scale": {"domain": ["Qobs", "Qsim", "RTF"], "range": ["#1414dc", "#1414dc", "#ff0000"]},
                  "legend": {"title": null, "orient": "none", "legendX": 16, "legendY": 244, "direction": "horizontal", "strokeColor": "#222", "fillColor": "#fff", "padding": 2, "labelFont": "Liberation Serif", "labelFontWeight": "bold", "labelFontSize": 11, "labelColor": "#000", "symbolSize": 360, "columnPadding": 22, "labelOffset": 6,
                    "encode": {"legend": {"update": {"stroke": {"value": "#222"}, "strokeWidth": {"value": 1}, "fill": {"value": "#fff"}}}, "symbols": {"update": {"strokeDash": {"signal": "datum.value == 'Qsim' ? [4, 2] : [1, 0]"}, "strokeWidth": {"signal": "datum.value == 'RTF' ? 2.6 : 1.6"}}}}}},
                "strokeDash": {"field": "s", "type": "nominal", "scale": {"domain": ["Qobs", "Qsim", "RTF"], "range": [[1, 0], [4, 2], [1, 0]]}, "legend": null},
                "strokeWidth": {"condition": {"test": "datum.s == 'RTF'", "value": 2.3}, "value": 1.4}
              }
            },
            {
              "data": {"values": [{"t": "2008-12-05T08:00"}, {"t": "2008-12-06T14:00"}]},
              "mark": {"type": "rule", "color": "#000", "strokeDash": [3, 2], "strokeWidth": 1.2},
              "encoding": {"x": {"field": "t", "type": "temporal"}}
            }
          ]
        },
        {
          "width": 265, "height": 263,
          "view": {"stroke": "#8a8a8a", "strokeWidth": 1.6},
          "title": {"text": "DISPERSION DIAGRAM"},
          "layer": [
            {
              "data": {"name": "s3"},
              "transform": [{"filter": "datum.Data == 'Observed'"}],
              "mark": {"type": "point", "filled": true, "color": "#7f7f7f", "opacity": 1, "size": 48},
              "encoding": {
                "x": {"field": "sim", "type": "quantitative", "title": null, "scale": {"domain": [0, 858], "nice": false},
                  "axis": {"values": [0, 100, 200, 300, 400, 500, 600, 700, 800], "format": "d", "labelExpr": "datum.value % 200 == 0 ? datum.label : ''", "gridWidth": 0.7}},
                "y": {"field": "obs", "type": "quantitative", "title": "Observed Discharge [m³/s]", "scale": {"domain": [0, 850], "nice": false},
                  "axis": {"values": [0, 100, 200, 300, 400, 500, 600, 700, 800], "format": "d", "labelExpr": "datum.value % 200 == 0 ? datum.label : ''", "gridWidth": 0.7, "titlePadding": 3}},
                "shape": {"field": "Data", "type": "nominal", "scale": {"domain": ["Forecasted", "Observed"], "range": ["circle", "triangle-up"]},
                  "legend": {"title": "Data", "orient": "none", "legendX": 276, "legendY": 62, "padding": 0, "symbolSize": 40, "rowPadding": 3,
                    "encode": {"symbols": {"update": {"fill": {"value": "#000"}, "stroke": {"value": "#000"}, "opacity": {"value": 1}}}}}}
              }
            },
            {
              "data": {"name": "s3"},
              "transform": [{"filter": "datum.Data == 'Forecasted'"}],
              "mark": {"type": "point", "filled": true, "opacity": 1, "size": 36, "shape": "circle"},
              "encoding": {
                "x": {"field": "sim", "type": "quantitative"},
                "y": {"field": "obs", "type": "quantitative"},
                "color": {"field": "lead", "type": "quantitative", "scale": {"domain": [1, 34], "range": ["#00ff00", "#ff0000"], "interpolate": "lab"},
                  "legend": {"title": "Lead Time [h]", "orient": "none", "legendX": 276, "legendY": 119, "padding": 0, "values": [10, 20, 30], "gradientLength": 68, "gradientThickness": 14}}
              }
            },
            {
              "data": {"values": [{"a": 0, "b": 0, "a2": 858, "b2": 850}]},
              "mark": {"type": "rule", "color": "#e8141b", "strokeWidth": 1.4},
              "encoding": {"x": {"field": "a", "type": "quantitative"}, "y": {"field": "b", "type": "quantitative"}, "x2": {"field": "a2"}, "y2": {"field": "b2"}}
            }
          ]
        }
      ]
    },
    {
      "title": {"text": "EVENT 4\u00a0\u00a0\u00a0\u00a0\u00a0\u00a0\u00a0\u00a0\u00a0\u00a0\u00a0\u00a0[20/01/2009 04:00 - 21/01/2009 19:00]", "dx": 45, "fontSize": 10.5, "offset": 8, "frame": "bounds"},
      "spacing": 2,
      "resolve": {"scale": {"shape": "independent", "color": "independent"}, "legend": {"shape": "independent", "color": "independent"}},
      "hconcat": [
        {
          "width": 241, "height": 199,
          "view": {"stroke": "#5a5a5a", "strokeWidth": 2},
          "title": {"text": "HYDROGRAM"},
          "layer": [
            {
              "data": {"name": "h4"},
              "mark": {"type": "line"},
              "encoding": {
                "x": {"field": "t", "type": "temporal", "title": null, "scale": {"nice": false},
                  "axis": {"tickCount": 8, "labelExpr": "[timeFormat(datum.value, '%I:%M'), (+timeFormat(datum.value, '%d')) + '-' + timeFormat(datum.value, '%m')]", "labelLineHeight": 9, "gridColor": "#e3e3e3", "labelColor": "#333", "labelFlush": false}},
                "y": {"field": "q", "type": "quantitative", "title": "Discharge [m³/s]",
                  "scale": {"domain": [0, 1005], "nice": false},
                  "axis": {"values": [0, 150, 300, 450, 600, 750, 900], "titlePadding": 12, "gridColor": "#e3e3e3", "labelColor": "#333", "titleFontSize": 9.5}},
                "color": {"field": "s", "type": "nominal", "scale": {"domain": ["Qobs", "Qsim", "RTF"], "range": ["#1414dc", "#1414dc", "#ff0000"]},
                  "legend": {"title": null, "orient": "none", "legendX": 11, "legendY": 247, "direction": "horizontal", "strokeColor": "#222", "fillColor": "#fff", "padding": 2, "labelFont": "Liberation Serif", "labelFontWeight": "bold", "labelFontSize": 11, "labelColor": "#000", "symbolSize": 360, "columnPadding": 22, "labelOffset": 6,
                    "encode": {"legend": {"update": {"stroke": {"value": "#222"}, "strokeWidth": {"value": 1}, "fill": {"value": "#fff"}}}, "symbols": {"update": {"strokeDash": {"signal": "datum.value == 'Qsim' ? [4, 2] : [1, 0]"}, "strokeWidth": {"signal": "datum.value == 'RTF' ? 2.6 : 1.6"}}}}}},
                "strokeDash": {"field": "s", "type": "nominal", "scale": {"domain": ["Qobs", "Qsim", "RTF"], "range": [[1, 0], [4, 2], [1, 0]]}, "legend": null},
                "strokeWidth": {"condition": {"test": "datum.s == 'RTF'", "value": 2.3}, "value": 1.4}
              }
            },
            {
              "data": {"values": [{"t": "2009-01-20T04:00"}, {"t": "2009-01-21T19:00"}]},
              "mark": {"type": "rule", "color": "#000", "strokeDash": [3, 2], "strokeWidth": 1.2},
              "encoding": {"x": {"field": "t", "type": "temporal"}}
            }
          ]
        },
        {
          "width": 260, "height": 260,
          "view": {"stroke": "#8a8a8a", "strokeWidth": 1.6},
          "title": {"text": "DISPERSION DIAGRAM"},
          "layer": [
            {
              "data": {"name": "s4"},
              "transform": [{"filter": "datum.Data == 'Observed'"}],
              "mark": {"type": "point", "filled": true, "color": "#7f7f7f", "opacity": 1, "size": 48},
              "encoding": {
                "x": {"field": "sim", "type": "quantitative", "title": "Simulated Discharge [m³/s]", "scale": {"domain": [0, 1000], "nice": false},
                  "axis": {"values": [0, 125, 250, 375, 500, 625, 750, 875, 1000], "format": "d", "labelExpr": "datum.value % 250 == 0 ? datum.label : ''", "gridWidth": 0.7, "titlePadding": 3}},
                "y": {"field": "obs", "type": "quantitative", "title": "Observed Discharge [m³/s]", "scale": {"domain": [0, 1000], "nice": false},
                  "axis": {"values": [0, 125, 250, 375, 500, 625, 750, 875, 1000], "format": "d", "labelExpr": "datum.value % 250 == 0 ? datum.label : ''", "gridWidth": 0.7, "titlePadding": 3}},
                "shape": {"field": "Data", "type": "nominal", "scale": {"domain": ["Forecasted", "Observed"], "range": ["circle", "triangle-up"]},
                  "legend": {"title": "Data", "orient": "none", "legendX": 273, "legendY": 60, "padding": 0, "symbolSize": 40, "rowPadding": 3,
                    "encode": {"symbols": {"update": {"fill": {"value": "#000"}, "stroke": {"value": "#000"}, "opacity": {"value": 1}}}}}}
              }
            },
            {
              "data": {"name": "s4"},
              "transform": [{"filter": "datum.Data == 'Forecasted'"}],
              "mark": {"type": "point", "filled": true, "opacity": 1, "size": 36, "shape": "circle"},
              "encoding": {
                "x": {"field": "sim", "type": "quantitative"},
                "y": {"field": "obs", "type": "quantitative"},
                "color": {"field": "lead", "type": "quantitative", "scale": {"domain": [1, 43], "range": ["#00ff00", "#ff0000"], "interpolate": "lab"},
                  "legend": {"title": "Lead Time [h]", "orient": "none", "legendX": 273, "legendY": 118, "padding": 0, "values": [10, 20, 30, 40], "gradientLength": 68, "gradientThickness": 14}}
              }
            },
            {
              "data": {"values": [{"a": 0, "b": 0, "a2": 1000, "b2": 1000}]},
              "mark": {"type": "rule", "color": "#e8141b", "strokeWidth": 1.4},
              "encoding": {"x": {"field": "a", "type": "quantitative"}, "y": {"field": "b", "type": "quantitative"}, "x2": {"field": "a2"}, "y2": {"field": "b2"}}
            }
          ]
        }
      ]
    }
  ]
}
